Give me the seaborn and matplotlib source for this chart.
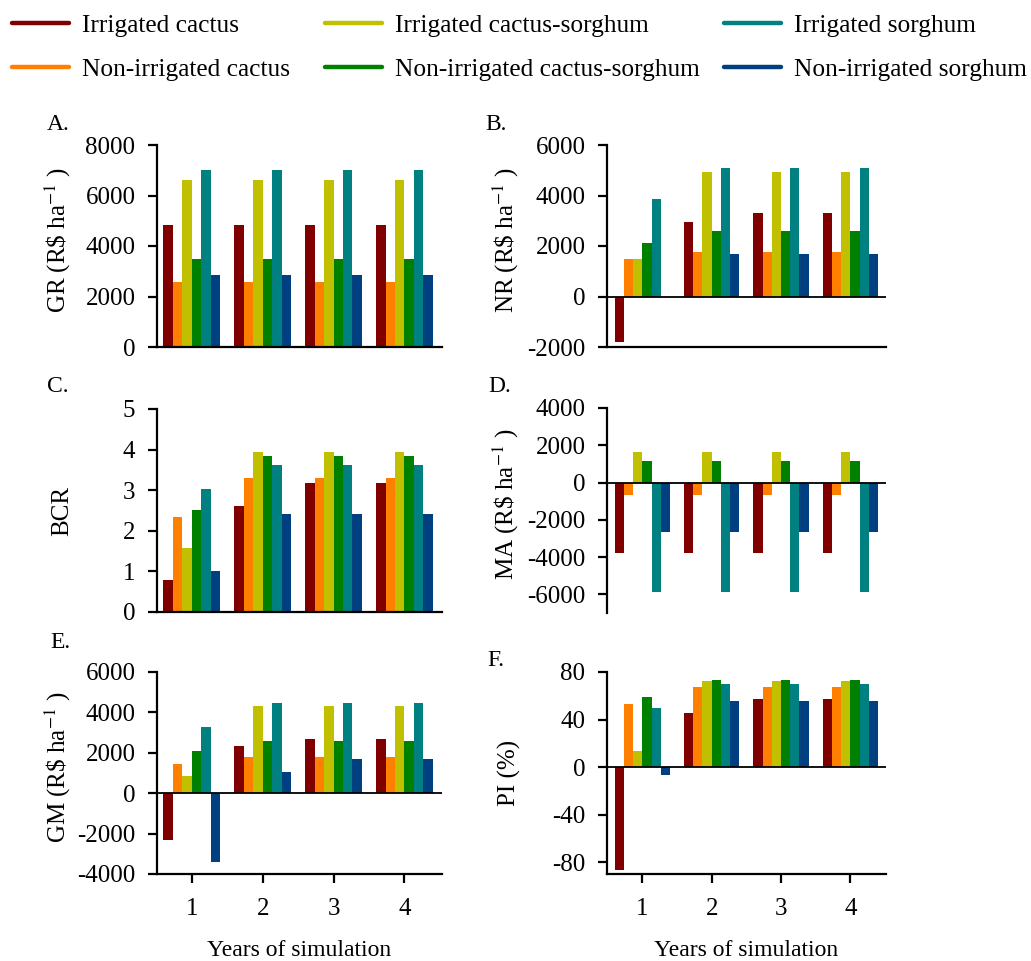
import numpy as np
import pandas as pd
import matplotlib
matplotlib.use("Agg")
import matplotlib.pyplot as plt
from matplotlib.lines import Line2D
import seaborn as sns

# ================================
# Data
# ================================
years = ['1', '2', '3', '4']
systems = ['Irrigated cactus', 'Non-irrigated cactus',
           'Irrigated cactus-sorghum', 'Non-irrigated cactus-sorghum',
           'Irrigated sorghum', 'Non-irrigated sorghum']
colors = ['#800000', '#FF8000', '#C0C000', '#008000', '#008080', '#004080']

# rows follow the order of `systems`, columns are years 1-4
gr_values = [[4850, 4850, 4850, 4850],
             [2580, 2580, 2580, 2580],
             [6620, 6620, 6620, 6620],
             [3500, 3500, 3500, 3500],
             [7020, 7020, 7020, 7020],
             [2850, 2850, 2850, 2850]]

nr_values = [[-1790, 2940, 3300, 3300],
             [1480, 1780, 1780, 1780],
             [1480, 4950, 4950, 4950],
             [2110, 2580, 2580, 2580],
             [3880, 5080, 5080, 5080],
             [0, 1680, 1680, 1680]]

bcr_values = [[0.80, 2.62, 3.17, 3.17],
              [2.35, 3.30, 3.30, 3.30],
              [1.58, 3.95, 3.95, 3.95],
              [2.52, 3.85, 3.85, 3.85],
              [3.02, 3.63, 3.63, 3.63],
              [1.00, 2.42, 2.42, 2.42]]

ma_values = [[-3770, -3770, -3770, -3770],
             [-650, -650, -650, -650],
             [1630, 1630, 1630, 1630],
             [1140, 1140, 1140, 1140],
             [-5860, -5860, -5860, -5860],
             [-2640, -2640, -2640, -2640]]

gm_values = [[-2320, 2340, 2700, 2700],
             [1470, 1780, 1780, 1780],
             [870, 4340, 4340, 4340],
             [2090, 2590, 2590, 2590],
             [3270, 4480, 4480, 4480],
             [-3420, 1050, 1670, 1670]]

pi_values = [[-87, 45.5, 57, 57],
             [53.4, 67, 67, 67],
             [13.2, 72.7, 72.7, 72.7],
             [58.7, 72.9, 72.9, 72.9],
             [50, 70.2, 70.2, 70.2],
             [-7, 55.9, 55.9, 55.9]]

# ================================
# Style
# ================================
sns.set_style('ticks')
plt.rcParams['font.family'] = ['Liberation Serif', 'DejaVu Serif']
plt.rcParams['mathtext.fontset'] = 'stix'
for key in ['text.color', 'axes.labelcolor', 'axes.edgecolor', 'xtick.color', 'ytick.color']:
    plt.rcParams[key] = 'black'
TICK_FS = 18
LABEL_FS = 18
LEG_FS = 18.3

W, H = 1031, 961
fig = plt.figure(figsize=(W / 100, H / 100), dpi=100)


def px_axes(left, top, right, bottom):
    return fig.add_axes([left / W, 1 - bottom / H, (right - left) / W, (bottom - top) / H])


def long_df(values):
    rows = []
    for s, vals in zip(systems, values):
        for y, v in zip(years, vals):
            rows.append({'year': y, 'system': s, 'value': v})
    return pd.DataFrame(rows)


panels = [
    # letter, values, ylabel, ylim, yticks, box (l, t, r, b px), xlim, zero line, bottom spine, x ticks
    ('A.', gr_values, r'GR (R\$ ha$^{-1}$ )', (0, 8000), np.arange(0, 8001, 2000),
     (157, 145, 442, 347), (-0.49, 3.53), False, True, False),
    ('B.', nr_values, r'NR (R\$ ha$^{-1}$ )', (-2000, 6000), np.arange(-2000, 6001, 2000),
     (607, 145, 886, 347), (-0.51, 3.515), True, True, False),
    ('C.', bcr_values, 'BCR', (0, 5), np.arange(0, 6, 1),
     (157, 409, 442, 612), (-0.49, 3.53), False, True, False),
    ('D.', ma_values, r'MA (R\$ ha$^{-1}$ )', (-7000, 4000), np.arange(-6000, 4001, 2000),
     (607, 408, 886, 613), (-0.51, 3.515), True, False, False),
    ('E.', gm_values, r'GM (R\$ ha$^{-1}$ )', (-4000, 6000), np.arange(-4000, 6001, 2000),
     (157, 672, 442, 874), (-0.49, 3.53), True, True, True),
    ('F.', pi_values, 'PI (%)', (-90, 80), np.arange(-80, 81, 40),
     (607, 672, 886, 874), (-0.51, 3.515), True, True, True),
]

letter_pos = {'A.': (47, 125), 'B.': (485, 125), 'C.': (47, 387),
              'D.': (488, 387), 'E.': (50, 643), 'F.': (487, 660)}

for letter, values, ylabel, ylim, yticks, box, xlim, zero, bottom, xt in panels:
    ax = px_axes(*box)
    df = long_df(values)
    sns.barplot(data=df, x='year', y='value', hue='system', hue_order=systems,
                palette=colors, saturation=1, errorbar=None, linewidth=0,
                width=0.8, legend=False, ax=ax)
    ax.set_xlim(*xlim)
    ax.set_ylim(*ylim)
    ax.set_yticks(yticks)
    ax.set_yticklabels([f'{t:g}' for t in yticks], fontsize=TICK_FS)
    sns.despine(ax=ax)
    ax.spines['left'].set_linewidth(1.6)
    ax.spines['bottom'].set_linewidth(1.6)
    ax.spines['bottom'].set_visible(bottom)
    if zero:
        ax.axhline(0, color='black', lw=1.3, zorder=5)
    ax.tick_params(axis='y', direction='out', length=6.5, width=1.6, pad=9)
    if xt:
        ax.tick_params(axis='x', direction='out', length=6.5, width=1.6, pad=11,
                       labelsize=TICK_FS)
        ax.set_xlabel('Years of simulation', fontsize=17, labelpad=14)
    else:
        ax.tick_params(axis='x', length=0, labelbottom=False)
        ax.set_xlabel('')
    ax.set_ylabel(ylabel, fontsize=LABEL_FS)
    lx = 73 if box[0] < 500 else 521
    ly = 0.53 if '$' in ylabel else 0.5
    ax.yaxis.set_label_coords((lx - box[0]) / (box[2] - box[0]), ly)
    x0, y0 = letter_pos[letter]
    fig.text(x0 / W, 1 - y0 / H, letter, fontsize=17, ha='left', va='center')

# ================================
# Legend (three columns placed by hand)
# ================================
col_x = [12, 325, 724]
for c in range(3):
    handles = [Line2D([0], [0], color=colors[2 * c + r], lw=3.2) for r in range(2)]
    labels = [systems[2 * c + r] for r in range(2)]
    fig.legend(handles, labels, loc='upper left',
               bbox_to_anchor=(col_x[c] / W, 1 - 14 / H), frameon=False,
               fontsize=LEG_FS, handlelength=2.25, handletextpad=0.5,
               labelspacing=0.85, borderpad=0, borderaxespad=0)

plt.savefig('out.png', dpi=100)
plt.close()
